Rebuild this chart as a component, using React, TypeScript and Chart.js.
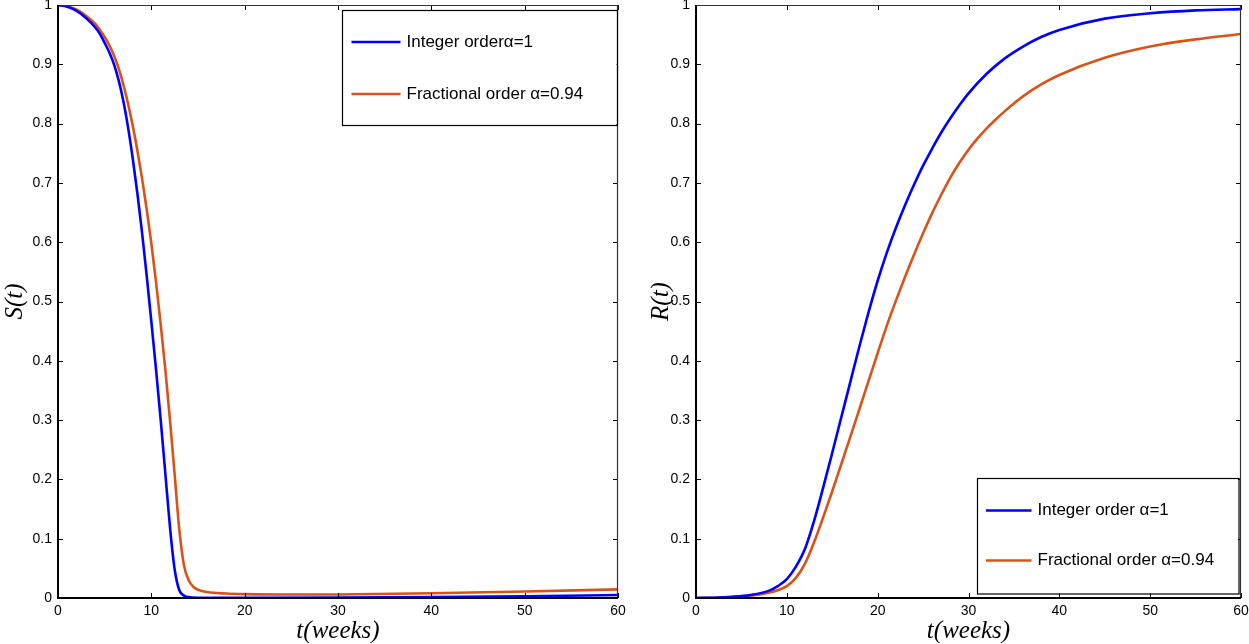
import React, { useEffect, useRef } from "react";
import { Chart, registerables } from "chart.js";

Chart.register(...registerables);

// ---------- data ----------
const tS_int = [0, 1, 2, 3, 4, 4.5, 5, 5.5, 6, 6.5, 7, 7.5, 8, 8.5, 9, 9.5, 10, 10.5, 11, 11.5, 12, 12.5, 13, 13.5, 14, 15, 20, 30, 40, 50, 60];
const S_int = [1, 0.997, 0.99, 0.978, 0.962, 0.951, 0.936, 0.92, 0.9, 0.873, 0.838, 0.794, 0.742, 0.683, 0.617, 0.544, 0.466, 0.386, 0.301, 0.21, 0.119, 0.048, 0.013, 0.004, 0.0015, 0.0005, 0.0003, 0.0006, 0.0015, 0.003, 0.005];

const tS_frac = [0, 1, 2, 3, 4, 4.5, 5, 5.5, 6, 6.5, 7, 7.5, 8, 8.5, 9, 9.5, 10, 10.5, 11, 11.5, 12, 12.5, 13, 13.5, 14, 14.5, 15, 16, 18, 20, 25, 30, 40, 50, 60];
const S_frac = [1, 0.998, 0.992, 0.982, 0.968, 0.958, 0.946, 0.932, 0.915, 0.893, 0.866, 0.834, 0.797, 0.755, 0.708, 0.656, 0.598, 0.533, 0.462, 0.385, 0.3, 0.208, 0.115, 0.055, 0.03, 0.019, 0.014, 0.01, 0.0075, 0.0065, 0.0058, 0.006, 0.008, 0.011, 0.0145];

const tR_int = [0, 2, 4, 6, 8, 9, 10, 11, 12, 13, 14, 15, 16, 17, 18, 19, 20, 21, 22, 23, 24, 25, 26, 27, 28, 29, 30, 32, 34, 36, 38, 40, 45, 50, 55, 60];
const R_int = [0, 0.0005, 0.002, 0.005, 0.012, 0.02, 0.032, 0.053, 0.083, 0.13, 0.186, 0.245, 0.305, 0.365, 0.425, 0.482, 0.535, 0.582, 0.624, 0.662, 0.697, 0.729, 0.758, 0.785, 0.809, 0.831, 0.851, 0.884, 0.91, 0.93, 0.946, 0.958, 0.977, 0.986, 0.991, 0.993];

const tR_frac = [0, 2, 4, 6, 8, 9, 10, 11, 12, 13, 14, 15, 16, 17, 18, 19, 20, 21, 22, 23, 24, 25, 26, 27, 28, 29, 30, 31, 32, 33, 34, 35, 36, 38, 40, 45, 50, 55, 60];
const R_frac = [0, 0.0003, 0.0015, 0.004, 0.009, 0.013, 0.02, 0.034, 0.058, 0.094, 0.136, 0.18, 0.226, 0.272, 0.319, 0.366, 0.413, 0.459, 0.501, 0.541, 0.579, 0.615, 0.649, 0.68, 0.709, 0.734, 0.756, 0.775, 0.792, 0.807, 0.821, 0.834, 0.846, 0.866, 0.882, 0.911, 0.93, 0.942, 0.951];

const xTicks = [0, 10, 20, 30, 40, 50, 60];
const yTicks = [0, 0.1, 0.2, 0.3, 0.4, 0.5, 0.6, 0.7, 0.8, 0.9, 1];
const xTickLabels = ["0", "10", "20", "30", "40", "50", "60"];
const yTickLabels = ["0", "0.1", "0.2", "0.3", "0.4", "0.5", "0.6", "0.7", "0.8", "0.9", "1"];

const labelsS = ["Integer orderα=1", "Fractional order α=0.94"];
const labelsR = ["Integer order α=1", "Fractional order α=0.94"];
const colors = ["#0000FF", "#D95319"];

const TICK_FONT = "'Liberation Sans', Arial, Helvetica, sans-serif";
const TITLE_FONT = "'Liberation Serif', 'Times New Roman', serif";

// ---------- plugins ----------
const framePlugin = {
  id: "matlabFrame",
  afterDraw(chart: any) {
    const { ctx, chartArea: a, scales } = chart;
    const x = scales.x;
    const y = scales.y;
    ctx.save();
    ctx.strokeStyle = "#000";
    ctx.lineWidth = 1;
    const L = 5;
    x.ticks.forEach((t: any) => {
      const px = Math.round(x.getPixelForValue(t.value)) + 0.5;
      ctx.beginPath();
      ctx.moveTo(px, a.top);
      ctx.lineTo(px, a.top + L);
      ctx.moveTo(px, a.bottom);
      ctx.lineTo(px, a.bottom - L);
      ctx.stroke();
    });
    y.ticks.forEach((t: any) => {
      const py = Math.round(y.getPixelForValue(t.value)) + 0.5;
      ctx.beginPath();
      ctx.moveTo(a.left, py);
      ctx.lineTo(a.left + L, py);
      ctx.moveTo(a.right, py);
      ctx.lineTo(a.right - L, py);
      ctx.stroke();
    });
    ctx.strokeStyle = "#333";
    ctx.lineWidth = 1.2;
    ctx.beginPath();
    ctx.moveTo(a.left, a.top + 0.5);
    ctx.lineTo(a.right, a.top + 0.5);
    ctx.moveTo(a.right - 0.5, a.top);
    ctx.lineTo(a.right - 0.5, a.bottom);
    ctx.stroke();
    ctx.strokeStyle = "#000";
    ctx.lineWidth = 2;
    ctx.beginPath();
    ctx.moveTo(a.left, a.top);
    ctx.lineTo(a.left, a.bottom);
    ctx.lineTo(a.right, a.bottom);
    ctx.stroke();
    ctx.restore();
  },
};

function makeLegendPlugin(cfg: any) {
  return {
    id: "boxLegend",
    afterDraw(chart: any) {
      const { ctx, chartArea: a } = chart;
      const right = a.right - cfg.rightInset;
      const left = right - cfg.width;
      const top = cfg.anchor === "top" ? a.top + cfg.vInset : a.bottom - cfg.vInset - cfg.height;
      ctx.save();
      ctx.fillStyle = "#fff";
      ctx.fillRect(left, top, cfg.width, cfg.height);
      ctx.strokeStyle = "#000";
      ctx.lineWidth = 1.2;
      ctx.strokeRect(Math.round(left) + 0.5, Math.round(top) + 0.5, cfg.width, cfg.height);
      chart.data.datasets.forEach((ds: any, i: number) => {
        const ry = top + cfg.rows[i];
        ctx.strokeStyle = ds.borderColor;
        ctx.lineWidth = 2.6;
        ctx.beginPath();
        ctx.moveTo(left + cfg.sampleStart, ry);
        ctx.lineTo(left + cfg.sampleEnd, ry);
        ctx.stroke();
        ctx.fillStyle = "#000";
        ctx.font = `17px ${TICK_FONT}`;
        ctx.textBaseline = "middle";
        ctx.textAlign = "left";
        ctx.fillText(ds.label, left + cfg.textStart, ry);
      });
      ctx.restore();
    },
  };
}

// ---------- panel ----------
type PanelProps = {
  left: number;
  width: number;
  height: number;
  plotLeft: number;
  plotRight: number;
  plotTop: number;
  plotBottom: number;
  yTitle: string;
  yTitlePad: number;
  series: { t: number[]; v: number[]; label: string; color: string }[];
  legend: any;
};

function Panel(p: PanelProps) {
  const ref = useRef<HTMLCanvasElement | null>(null);
  useEffect(() => {
    if (!ref.current) return;
    const chart = new Chart(ref.current, {
      type: "line",
      data: {
        datasets: p.series.map((s) => ({
          label: s.label,
          data: s.t.map((tt, i) => ({ x: tt, y: s.v[i] })),
          borderColor: s.color,
          backgroundColor: s.color,
          borderWidth: 2.6,
          pointRadius: 0,
          fill: false,
          cubicInterpolationMode: "monotone",
        })),
      },
      options: {
        responsive: false,
        maintainAspectRatio: false,
        animation: false,
        events: [],
        layout: {
          padding: { top: p.plotTop, right: p.width - p.plotRight, left: 0, bottom: 0 },
        },
        plugins: {
          legend: { display: false },
          tooltip: { enabled: false },
        },
        scales: {
          x: {
            type: "linear",
            min: 0,
            max: 60,
            afterBuildTicks: (s: any) => {
              s.ticks = xTicks.map((v) => ({ value: v }));
            },
            afterFit: (s: any) => {
              s.height = p.height - p.plotBottom;
              s.paddingLeft = 0;
              s.paddingRight = 0;
            },
            ticks: {
              color: "#000",
              padding: 5,
              maxRotation: 0,
              autoSkip: false,
              font: { family: TICK_FONT, size: 14 },
              callback: (v: any) => xTickLabels[xTicks.indexOf(Number(v))] ?? String(v),
            },
            grid: { display: false, drawTicks: false },
            border: { display: false },
            title: {
              display: true,
              text: "t(weeks)",
              color: "#000",
              font: { family: TITLE_FONT, size: 25, style: "italic", lineHeight: 1 },
              padding: { top: 0, bottom: 0 },
            },
          },
          y: {
            type: "linear",
            min: 0,
            max: 1,
            afterBuildTicks: (s: any) => {
              s.ticks = yTicks.map((v) => ({ value: v }));
            },
            afterFit: (s: any) => {
              s.width = p.plotLeft;
              s.paddingTop = 0;
              s.paddingBottom = 0;
            },
            ticks: {
              color: "#000",
              padding: 6,
              autoSkip: false,
              font: { family: TICK_FONT, size: 14 },
              callback: (v: any) => {
                const idx = yTicks.findIndex((y) => Math.abs(y - Number(v)) < 1e-9);
                return idx >= 0 ? yTickLabels[idx] : String(v);
              },
            },
            grid: { display: false, drawTicks: false },
            border: { display: false },
            title: {
              display: true,
              text: p.yTitle,
              color: "#000",
              font: { family: TITLE_FONT, size: 25, style: "italic", lineHeight: 1 },
              padding: { top: p.yTitlePad, bottom: 0 },
            },
          },
        },
      } as any,
      plugins: [framePlugin, makeLegendPlugin(p.legend)],
    });
    return () => chart.destroy();
  }, []);
  return (
    <canvas
      ref={ref}
      width={p.width}
      height={p.height}
      style={{ position: "absolute", left: p.left, top: 0, width: p.width, height: p.height }}
    />
  );
}

export default function App() {
  const H = 644;
  return (
    <div style={{ position: "absolute", left: 0, top: 0, width: 1249, height: H, background: "#fff" }}>
      <Panel
        left={0}
        width={640}
        height={H}
        plotLeft={58}
        plotRight={618}
        plotTop={5}
        plotBottom={598}
        yTitle="S(t)"
        yTitlePad={3}
        series={[
          { t: tS_int, v: S_int, label: labelsS[0], color: colors[0] },
          { t: tS_frac, v: S_frac, label: labelsS[1], color: colors[1] },
        ]}
        legend={{ anchor: "top", rightInset: 1.5, vInset: 5, width: 275, height: 115, rows: [32, 84], sampleStart: 10, sampleEnd: 59, textStart: 65 }}
      />
      <Panel
        left={640}
        width={609}
        height={H}
        plotLeft={56}
        plotRight={601}
        plotTop={5}
        plotBottom={598}
        yTitle="R(t)"
        yTitlePad={9}
        series={[
          { t: tR_int, v: R_int, label: labelsR[0], color: colors[0] },
          { t: tR_frac, v: R_frac, label: labelsR[1], color: colors[1] },
        ]}
        legend={{ anchor: "bottom", rightInset: 3, vInset: 4.5, width: 261.5, height: 115.5, rows: [32.5, 82.5], sampleStart: 9.5, sampleEnd: 55, textStart: 61 }}
      />
    </div>
  );
}
